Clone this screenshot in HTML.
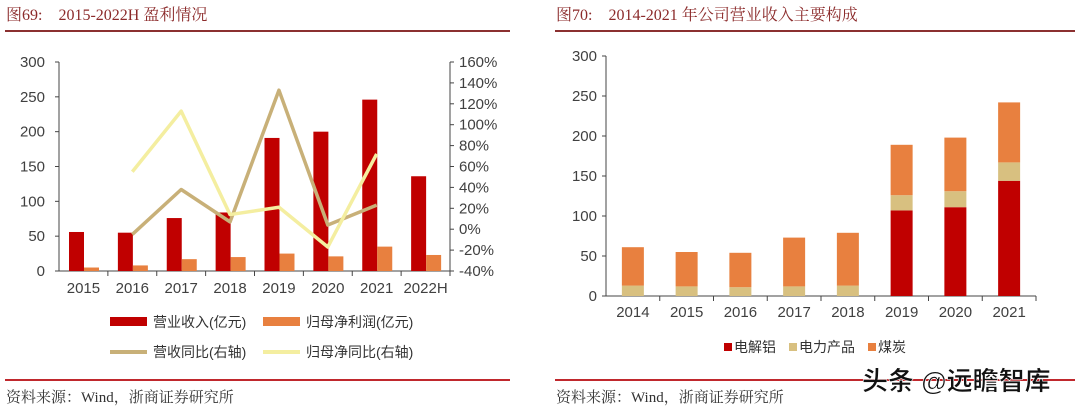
<!DOCTYPE html>
<html><head><meta charset="utf-8">
<style>
body{margin:0;background:#fff;width:1080px;height:408px;overflow:hidden;font-family:"Liberation Sans","Noto Sans CJK SC",sans-serif;}
svg text{font-family:"Liberation Sans","Noto Sans CJK SC",sans-serif;}
</style></head><body>
<svg id="s" width="1080" height="408" xmlns="http://www.w3.org/2000/svg">
<text x="6" y="20" font-size="16" fill="#8b2a2a" style="font-family:'Liberation Serif','Noto Serif CJK SC',serif">图69:　2015-2022H 盈利情况</text>
<text x="556" y="20" font-size="16" fill="#8b2a2a" style="font-family:'Liberation Serif','Noto Serif CJK SC',serif">图70:　2014-2021 年公司营业收入主要构成</text>
<line x1="5" y1="31" x2="510" y2="31" stroke="#8b3030" stroke-width="2"/>
<line x1="555" y1="31" x2="1075" y2="31" stroke="#8b3030" stroke-width="2"/>
<line x1="5" y1="380" x2="510" y2="380" stroke="#c0282d" stroke-width="2"/>
<line x1="555" y1="380" x2="1075" y2="380" stroke="#c0282d" stroke-width="2"/>
<text x="6" y="402" font-size="15" fill="#333" style="font-family:'Liberation Serif','Noto Serif CJK SC',serif">资料来源：Wind，浙商证券研究所</text>
<text x="556" y="402" font-size="15" fill="#333" style="font-family:'Liberation Serif','Noto Serif CJK SC',serif">资料来源：Wind，浙商证券研究所</text>
<g id="L"></g><g id="R"></g>
<text x="862" y="390" font-size="26" fill="#111" stroke="#fff" stroke-width="0.6" font-weight="bold">头条 @远瞻智库</text>
</svg>
<script>
const leftCats=["2015","2016","2017","2018","2019","2020","2021","2022H"];
const revenue=[56,55,76,84,191,200,246,136];
const profit=[5,8,17,20,25,21,35,23];
const revGrowth=[null,-5,38,7,133,4,23,null];
const profGrowth=[null,55,113,14,21,-17,72,null];
const leftTicks=[0,50,100,150,200,250,300];
const rightTicks=[-40,-20,0,20,40,60,80,100,120,140,160];

const rightCats=["2014","2015","2016","2017","2018","2019","2020","2021"];
const aluminum=[0,0,0,0,0,107,111,144];
const power=[13,12,11,12,13,19,20,23];
const coal=[48,43,43,61,66,63,67,75];
const rTicks=[0,50,100,150,200,250,300];

const NS="http://www.w3.org/2000/svg";
function mk(p,t,a){const e=document.createElementNS(NS,t);for(const k in a)e.setAttribute(k,a[k]);p.appendChild(e);return e;}
const L=document.getElementById('L');
const lx0=59,lx1=450,ly0=271,ly1=62;
const ly=v=>ly0-(v/300)*(ly0-ly1);
const ry=v=>ly0-((v+40)/200)*(ly0-ly1);
const lbw=(lx1-lx0)/leftCats.length;
const ax=mk(L,'line',{x1:lx0,y1:ly1,x2:lx0,y2:ly0,stroke:'#444'});

const ax2=mk(L,'line',{x1:lx1,y1:ly1,x2:lx1,y2:ly0,stroke:'#444'});

const axb=mk(L,'line',{x1:lx0,y1:ly0,x2:lx1,y2:ly0,stroke:'#444'});

leftTicks.forEach(t=>{const y=ly(t);mk(L,'line',{x1:lx0-4,y1:y,x2:lx0,y2:y,stroke:'#444'});
const e=mk(L,'text',{x:lx0-14,y:y+5,'font-size':15,fill:'#404040','text-anchor':'end'});e.textContent=t;
});
rightTicks.forEach(t=>{const y=ry(t);mk(L,'line',{x1:lx1,y1:y,x2:lx1+4,y2:y,stroke:'#444'});
const e=mk(L,'text',{x:lx1+9,y:y+5,'font-size':15,fill:'#404040'});e.textContent=t+'%';
});
leftCats.forEach((c,i)=>{const x=lx0+i*lbw;mk(L,'line',{x1:x+lbw,y1:ly0,x2:x+lbw,y2:ly0+5,stroke:'#444'});
const t=mk(L,'text',{x:x+lbw/2,y:ly0+22,'font-size':15,fill:'#404040','text-anchor':'middle'});t.textContent=c;

const b=mk(L,'rect',{x:x+10,y:ly(revenue[i]),width:15,height:ly0-ly(revenue[i]),fill:'#c00000'});

const b2=mk(L,'rect',{x:x+25,y:ly(profit[i]),width:15,height:ly0-ly(profit[i]),fill:'#e8803f'});
});
function line(data,col,name){let pts=[];data.forEach((v,i)=>{if(v!==null)pts.push((lx0+i*lbw+lbw/2)+','+ry(v));});
const p=mk(L,'polyline',{points:pts.join(' '),fill:'none',stroke:col,'stroke-width':3.5,'stroke-linejoin':'round'});
}
line(revGrowth,'#c8b078','line-revenue-growth');
line(profGrowth,'#f4eea0','line-profit-growth');
const lg=[['rect','#c00000','营业收入(亿元)',110,322],['rect','#e8803f','归母净利润(亿元)',263,322],['line','#c8b078','营收同比(右轴)',110,352],['line','#f4eea0','归母净同比(右轴)',263,352]];
lg.forEach(g=>{const s=g[0]=='rect'?mk(L,'rect',{x:g[3],y:g[4]-5,width:37,height:9,fill:g[1]}):mk(L,'line',{x1:g[3],y1:g[4],x2:g[3]+37,y2:g[4],stroke:g[1],'stroke-width':4});

const t=mk(L,'text',{x:g[3]+43,y:g[4]+5,'font-size':14,fill:'#333'});t.textContent=g[2];
});
const R=document.getElementById('R');
const rx0=606,rx1=1036,ry0=296,ry1=56;
const yy=v=>ry0-(v/300)*(ry0-ry1);
const rbw=(rx1-rx0)/rightCats.length;
const a1=mk(R,'line',{x1:rx0,y1:ry1,x2:rx0,y2:ry0,stroke:'#444'});

const a2=mk(R,'line',{x1:rx0,y1:ry0,x2:rx1,y2:ry0,stroke:'#444'});

rTicks.forEach(t=>{const y=yy(t);mk(R,'line',{x1:rx0-4,y1:y,x2:rx0,y2:y,stroke:'#444'});
const e=mk(R,'text',{x:rx0-9,y:y+5,'font-size':15,fill:'#404040','text-anchor':'end'});e.textContent=t;
});
rightCats.forEach((c,i)=>{const x=rx0+i*rbw;mk(R,'line',{x1:x+rbw,y1:ry0,x2:x+rbw,y2:ry0+5,stroke:'#444'});
const t=mk(R,'text',{x:x+rbw/2,y:ry0+21,'font-size':15,fill:'#404040','text-anchor':'middle'});t.textContent=c;

let base=0;[[aluminum,'#c00000','bar-aluminum'],[power,'#d8c080','bar-power'],[coal,'#e8803f','bar-coal']].forEach(s=>{
const v=s[0][i];const r=mk(R,'rect',{x:x+rbw/2-11,y:yy(base+v),width:22,height:yy(base)-yy(base+v),fill:s[1]});
base+=v;});});
[['#c00000','电解铝',724],['#d8c080','电力产品',789],['#e8803f','煤炭',868]].forEach(g=>{
const s=mk(R,'rect',{x:g[2],y:343,width:8,height:8,fill:g[0]});

const t=mk(R,'text',{x:g[2]+10,y:352,'font-size':14,fill:'#333'});t.textContent=g[1];
});
</script>
</body></html>
